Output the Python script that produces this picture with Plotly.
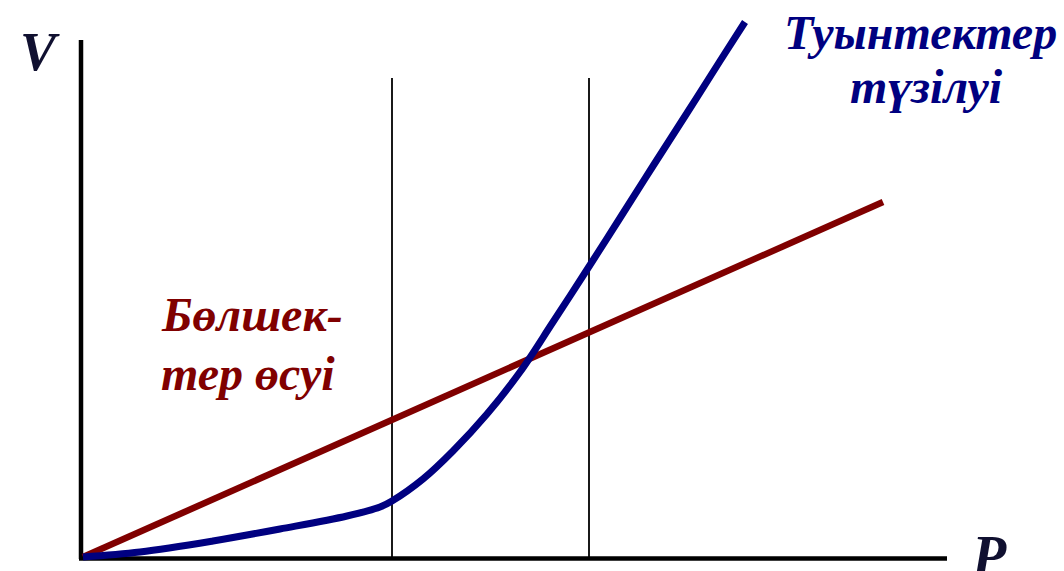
import plotly.graph_objects as go

# Data (arbitrary units, origin at the axes corner)
blue_p = [0, 0.57, 1.30, 1.97, 2.64, 2.97, 3.09, 3.40, 3.70, 4.04, 4.37, 4.70, 5.07, 5.37, 5.70, 6.04, 6.37, 6.62]
blue_v = [0, 0.05, 0.16, 0.28, 0.41, 0.50, 0.56, 0.78, 1.06, 1.43, 1.85, 2.35, 2.92, 3.39, 3.91, 4.44, 4.96, 5.35]
red_p = [0, 8.0]
red_v = [0, 3.55]
vlines_p = [3.09, 5.06]
vline_top = 4.79
x_axis_end = 8.64
y_axis_end = 5.17

blue_label = ["Туынтектер", "түзілуі"]
red_label = ["Бөлшек-", "тер өсуі"]
x_label = "P"
y_label = "V"

BLUE = "#000080"
RED = "#800000"
FONT = "Liberation Serif"

fig = go.Figure()

# axes lines
fig.add_trace(go.Scatter(x=[-0.02, -0.02], y=[-0.02, y_axis_end], mode="lines",
                         line=dict(color="black", width=4.5), hoverinfo="skip"))
fig.add_trace(go.Scatter(x=[-0.04, x_axis_end], y=[-0.015, -0.015], mode="lines",
                         line=dict(color="black", width=4.5), hoverinfo="skip"))
# vertical thin lines
for p in vlines_p:
    fig.add_trace(go.Scatter(x=[p, p], y=[0, vline_top], mode="lines",
                             line=dict(color="black", width=1.8), hoverinfo="skip"))
# red line
fig.add_trace(go.Scatter(x=red_p, y=red_v, mode="lines",
                         line=dict(color=RED, width=6.5), hoverinfo="skip"))
# blue curve
fig.add_trace(go.Scatter(x=blue_p, y=blue_v, mode="lines",
                         line=dict(color=BLUE, width=7, shape="spline", smoothing=1.0),
                         hoverinfo="skip"))

def txt(x, y, s, color, size, xanchor="center"):
    fig.add_annotation(x=x, y=y, xref="x", yref="y", text=s, showarrow=False,
                       xanchor=xanchor, yanchor="middle",
                       font=dict(family=FONT, size=size, color=color,
                                 style="italic", weight="bold"))

txt(8.37, 5.25, blue_label[0], BLUE, 48)
txt(8.43, 4.71, blue_label[1], BLUE, 48)
txt(0.76, 2.43, red_label[0], RED, 48, "left")
txt(0.76, 1.84, red_label[1], RED, 48, "left")
txt(-0.43, 5.05, y_label, "#101030", 54)
txt(9.06, 0.01, x_label, "#101030", 56)

fig.update_layout(
    width=1064, height=571,
    margin=dict(l=0, r=0, t=0, b=0),
    paper_bgcolor="white", plot_bgcolor="white",
    showlegend=False,
    xaxis=dict(range=[-0.83, 9.81], visible=False, fixedrange=True),
    yaxis=dict(range=[-0.14, 5.57], visible=False, fixedrange=True),
)

fig.write_html("out.html", config={"displayModeBar": False},
               post_script="document.body.style.margin='0';document.body.style.overflow='hidden';")
